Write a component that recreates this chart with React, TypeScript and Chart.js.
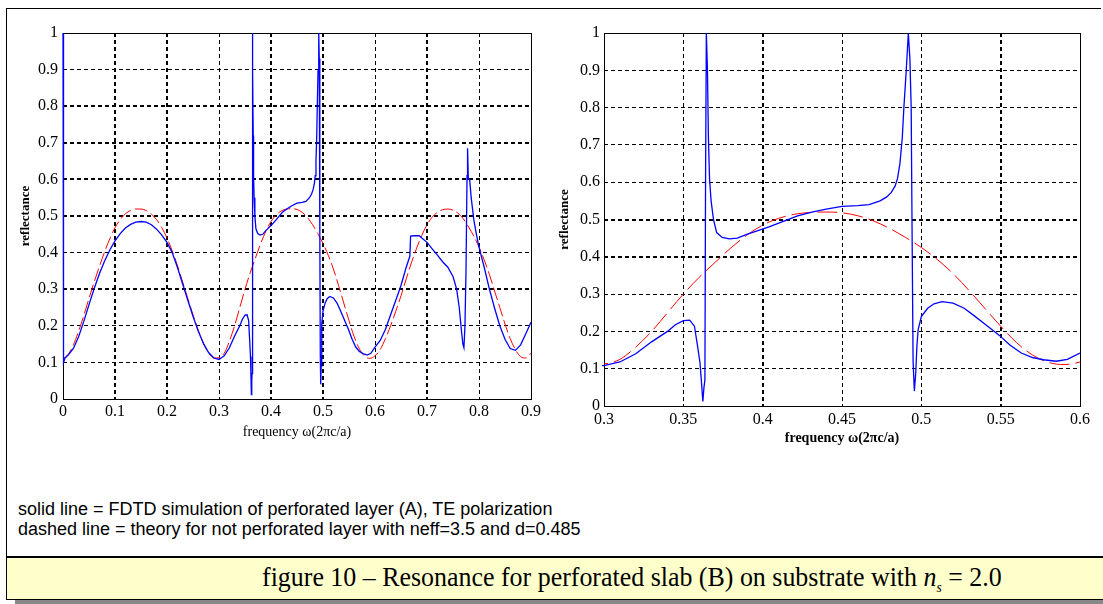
import React, { useEffect, useRef } from "react";
import { Chart, registerables } from "chart.js";

Chart.register(...registerables);

// ---- data ----
const redFreq = [
  0, 0.01, 0.02, 0.03, 0.04, 0.05, 0.06, 0.07, 0.08, 0.09,
  0.1, 0.11, 0.12, 0.13, 0.14, 0.15, 0.16, 0.17, 0.18, 0.19,
  0.2, 0.21, 0.22, 0.23, 0.24, 0.25, 0.26, 0.27, 0.28, 0.29,
  0.3, 0.31, 0.32, 0.33, 0.34, 0.35, 0.36, 0.37, 0.38, 0.39,
  0.4, 0.41, 0.42, 0.43, 0.44, 0.45, 0.46, 0.47, 0.48, 0.49,
  0.5, 0.51, 0.52, 0.53, 0.54, 0.55, 0.56, 0.57, 0.58, 0.59,
  0.6, 0.61, 0.62, 0.63, 0.64, 0.65, 0.66, 0.67, 0.68, 0.69,
  0.7, 0.71, 0.72, 0.73, 0.74, 0.75, 0.76, 0.77, 0.78, 0.79,
  0.8, 0.81, 0.82, 0.83, 0.84, 0.85, 0.86, 0.87, 0.88, 0.89,
  0.9,
];
const redRefl = [
  0.11, 0.122, 0.148, 0.185, 0.228, 0.275, 0.32, 0.362, 0.402, 0.438,
  0.468, 0.49, 0.506, 0.515, 0.519, 0.519, 0.515, 0.505, 0.49, 0.468,
  0.44, 0.405, 0.365, 0.32, 0.275, 0.23, 0.188, 0.152, 0.126, 0.112,
  0.113, 0.125, 0.158, 0.2, 0.25, 0.3, 0.345, 0.385, 0.424, 0.458,
  0.485, 0.503, 0.514, 0.519, 0.52, 0.518, 0.51, 0.496, 0.476, 0.452,
  0.425, 0.393, 0.355, 0.31, 0.262, 0.214, 0.17, 0.137, 0.117, 0.111,
  0.118, 0.135, 0.165, 0.2, 0.24, 0.282, 0.328, 0.372, 0.412, 0.447,
  0.476, 0.497, 0.51, 0.517, 0.519, 0.516, 0.507, 0.492, 0.47, 0.445,
  0.415, 0.38, 0.34, 0.295, 0.25, 0.205, 0.165, 0.135, 0.116, 0.112,
  0.125,
];

const blueFreq = [
  0, 0.001, 0.004, 0.01, 0.02, 0.03, 0.04, 0.05, 0.06, 0.07, 0.08, 0.09,
  0.1, 0.11, 0.12, 0.13, 0.14, 0.15, 0.16, 0.17, 0.18, 0.19,
  0.2, 0.21, 0.22, 0.23, 0.24, 0.25, 0.26, 0.27, 0.28, 0.29,
  0.3, 0.31, 0.32, 0.33, 0.34, 0.345, 0.35, 0.354, 0.357, 0.359, 0.3605,
  0.3615, 0.3623, 0.363, 0.3636, 0.364, 0.3645, 0.3652, 0.3658, 0.3665,
  0.3675, 0.369, 0.371, 0.3745, 0.379, 0.384, 0.39, 0.397, 0.404, 0.413,
  0.422, 0.431, 0.44, 0.45, 0.46, 0.467, 0.474, 0.478, 0.481, 0.4835,
  0.485, 0.4865, 0.488, 0.489, 0.4905, 0.4918, 0.4928, 0.4936, 0.4942,
  0.4948, 0.4956, 0.4965, 0.4972, 0.498, 0.5, 0.504, 0.508, 0.513, 0.52,
  0.527, 0.533, 0.54, 0.549, 0.556, 0.563, 0.57, 0.577, 0.585, 0.592,
  0.6, 0.61, 0.62, 0.63, 0.64, 0.65, 0.66, 0.667, 0.6685, 0.675, 0.685,
  0.69, 0.7, 0.71, 0.72, 0.73, 0.74, 0.75, 0.757, 0.762, 0.766, 0.769,
  0.771, 0.773, 0.775, 0.777, 0.778, 0.7795, 0.782, 0.785, 0.79, 0.795,
  0.8, 0.81, 0.82, 0.83, 0.84, 0.85, 0.86, 0.87, 0.88, 0.89, 0.9,
];
const blueRefl = [
  1.0, 0.1, 0.112, 0.12, 0.138, 0.17, 0.212, 0.258, 0.302, 0.342, 0.377, 0.407,
  0.432, 0.452, 0.467, 0.477, 0.483, 0.485, 0.483, 0.476, 0.464, 0.448,
  0.428, 0.4, 0.36, 0.315, 0.27, 0.226, 0.186, 0.152, 0.127, 0.112,
  0.108, 0.118, 0.14, 0.172, 0.2, 0.218, 0.229, 0.23, 0.214, 0.16, 0.116,
  0.06, 0.012, 0.05, 0.07, 0.6, 1.0, 0.9, 0.72, 0.61,
  0.55, 0.5, 0.465, 0.452, 0.448, 0.45, 0.46, 0.47, 0.48, 0.495,
  0.51, 0.52, 0.528, 0.535, 0.537, 0.54, 0.55, 0.56, 0.572, 0.59,
  0.61, 0.65, 0.72, 0.8, 0.9, 1.0, 0.93, 0.8, 0.45,
  0.12, 0.04, 0.09, 0.16, 0.205, 0.24, 0.262, 0.274, 0.28, 0.276,
  0.262, 0.243, 0.22, 0.19, 0.163, 0.142, 0.13, 0.124, 0.12, 0.125,
  0.142, 0.16, 0.19, 0.23, 0.27, 0.31, 0.36, 0.39, 0.445, 0.446, 0.446,
  0.44, 0.428, 0.41, 0.393, 0.375, 0.36, 0.335, 0.3, 0.25, 0.19, 0.15,
  0.14, 0.2, 0.35, 0.61, 0.685, 0.6, 0.6, 0.55, 0.49, 0.45,
  0.415, 0.36, 0.3, 0.248, 0.2, 0.163, 0.138, 0.133, 0.148, 0.178, 0.21,
];

const yTickValues = [0, 0.1, 0.2, 0.3, 0.4, 0.5, 0.6, 0.7, 0.8, 0.9, 1];
const yTickLabels = ["0", "0.1", "0.2", "0.3", "0.4", "0.5", "0.6", "0.7", "0.8", "0.9", "1"];
const leftXTickValues = [0, 0.1, 0.2, 0.3, 0.4, 0.5, 0.6, 0.7, 0.8, 0.9];
const leftXTickLabels = ["0", "0.1", "0.2", "0.3", "0.4", "0.5", "0.6", "0.7", "0.8", "0.9"];
const rightXTickValues = [0.3, 0.35, 0.4, 0.45, 0.5, 0.55, 0.6];
const rightXTickLabels = ["0.3", "0.35", "0.4", "0.45", "0.5", "0.55", "0.6"];

const yAxisTitle = "reflectance";
const xAxisTitle = "frequency \u03c9(2\u03c0c/a)";
const legendLines = [
  "solid line = FDTD simulation of perforated layer (A), TE polarization",
  "dashed line = theory for not perforated layer with neff=3.5 and d=0.485",
];
const captionText = "figure 10 \u2013 Resonance for perforated slab (B) on substrate with ";

// ---- chart helpers ----
const boxPlugin = {
  id: "plotBox",
  beforeDatasetsDraw(chart: any) {
    const { ctx, chartArea } = chart;
    const { left, top, right, bottom } = chartArea;
    ctx.save();
    ctx.setLineDash([]);
    ctx.strokeStyle = "#000";
    ctx.lineWidth = 1;
    ctx.strokeRect(Math.round(left) + 0.5, Math.round(top) + 0.5, Math.round(right - left), Math.round(bottom - top));
    ctx.restore();
  },
};

type PanelCfg = {
  xMin: number;
  xMax: number;
  xTicks: number[];
  xLabels: string[];
  thickX: number[];
  thickY: number[];
  pad: { left: number; top: number; right: number; bottom: number };
  yWidth: number;
  xHeight: number;
  yTitlePad: number;
  xTitlePad: number;
  xTitleBold: boolean;
  xTickPad: number;
  yTickPad: number;
  redDash: number[];
};

function buildChart(canvas: HTMLCanvasElement, c: PanelCfg) {
  const gridColor = (min: number, max: number) => (ctx: any) => {
    const v = ctx.tick ? ctx.tick.value : null;
    if (v === null) return "#000";
    if (Math.abs(v - min) < 1e-9 || Math.abs(v - max) < 1e-9) return "rgba(0,0,0,0)";
    return "#000";
  };
  const gridWidth = (thick: number[]) => (ctx: any) => {
    const v = ctx.tick ? ctx.tick.value : null;
    if (v === null) return 1;
    return thick.some((t) => Math.abs(t - v) < 1e-9) ? 2 : 1;
  };
  const tickFont = { family: "'Liberation Serif', serif", size: 16 };

  return new Chart(canvas, {
    type: "line",
    data: {
      datasets: [
        {
          data: blueFreq.map((f, i) => ({ x: f, y: blueRefl[i] })),
          borderColor: "#0000ff",
          borderWidth: 1.3,
          pointRadius: 0,
          tension: 0,
          clip: { left: 2, top: 2, right: 0, bottom: 2 },
        },
        {
          data: redFreq.map((f, i) => ({ x: f, y: redRefl[i] })),
          borderColor: "#ff0000",
          borderWidth: 1,
          borderDash: c.redDash,
          pointRadius: 0,
          cubicInterpolationMode: "monotone",
          clip: { left: 0, top: 0, right: 0, bottom: 0 },
        },
      ],
    } as any,
    options: {
      responsive: false,
      maintainAspectRatio: false,
      animation: false,
      events: [],
      layout: { padding: c.pad },
      plugins: { legend: { display: false }, tooltip: { enabled: false } },
      scales: {
        x: {
          type: "linear",
          min: c.xMin,
          max: c.xMax,
          afterBuildTicks: (axis: any) => {
            axis.ticks = c.xTicks.map((v) => ({ value: v }));
          },
          afterFit: (s: any) => {
            s.height = c.xHeight;
            s.paddingLeft = 0;
            s.paddingRight = 0;
          },
          ticks: {
            autoSkip: false,
            maxRotation: 0,
            minRotation: 0,
            color: "#000",
            padding: c.xTickPad,
            font: tickFont,
            callback: (_v: any, i: number) => c.xLabels[i],
          },
          grid: {
            drawTicks: false,
            color: gridColor(c.xMin, c.xMax),
            lineWidth: gridWidth(c.thickX),
          },
          border: { display: false, dash: [4, 3] },
          title: {
            display: true,
            text: xAxisTitle,
            color: "#000",
            font: { family: "'Liberation Serif', serif", size: 14, weight: c.xTitleBold ? "bold" : "normal" },
            padding: { top: 0, bottom: c.xTitlePad },
          },
        },
        y: {
          type: "linear",
          min: 0,
          max: 1,
          afterBuildTicks: (axis: any) => {
            axis.ticks = yTickValues.map((v) => ({ value: v }));
          },
          afterFit: (s: any) => {
            s.width = c.yWidth;
            s.paddingTop = 0;
            s.paddingBottom = 0;
          },
          ticks: {
            autoSkip: false,
            color: "#000",
            padding: c.yTickPad,
            font: tickFont,
            callback: (_v: any, i: number) => yTickLabels[i],
          },
          grid: {
            drawTicks: false,
            color: gridColor(0, 1),
            lineWidth: gridWidth(c.thickY),
          },
          border: { display: false, dash: [4, 3] },
          title: {
            display: true,
            text: yAxisTitle,
            color: "#000",
            font: { family: "'Liberation Serif', serif", size: 13, weight: "bold" },
            padding: { top: c.yTitlePad, bottom: 0 },
          },
        },
      },
    } as any,
    plugins: [boxPlugin],
  });
}

function Panel(props: { cfg: PanelCfg; left: number; width: number; height: number }) {
  const ref = useRef<HTMLCanvasElement | null>(null);
  useEffect(() => {
    if (!ref.current) return;
    const chart = buildChart(ref.current, props.cfg);
    return () => chart.destroy();
  }, []);
  return (
    <canvas
      ref={ref}
      width={props.width}
      height={props.height}
      style={{ position: "absolute", left: props.left, top: 0, width: props.width, height: props.height }}
    />
  );
}

const leftCfg: PanelCfg = {
  xMin: 0,
  xMax: 0.9,
  xTicks: leftXTickValues,
  xLabels: leftXTickLabels,
  thickX: [0.1, 0.2, 0.4, 0.5, 0.7],
  thickY: [0.3, 0.5, 0.6, 0.7, 0.8],
  pad: { left: 0, top: 33, right: 14, bottom: 0 },
  yWidth: 63,
  xHeight: 56,
  yTitlePad: 18,
  xTitlePad: 14,
  xTitleBold: false,
  xTickPad: 3,
  yTickPad: 5,
  redDash: [13, 4],
};

const rightCfg: PanelCfg = {
  xMin: 0.3,
  xMax: 0.6,
  xTicks: rightXTickValues,
  xLabels: rightXTickLabels,
  thickX: [0.4, 0.55],
  thickY: [0.4, 0.5],
  pad: { left: 0, top: 33, right: 23, bottom: 0 },
  yWidth: 59,
  xHeight: 49,
  yTitlePad: 12,
  xTitlePad: 8,
  xTitleBold: true,
  xTickPad: 4,
  yTickPad: 4,
  redDash: [20, 6],
};

export default function App() {
  return (
    <div
      style={{
        position: "absolute",
        left: 0,
        top: 0,
        width: 1103,
        height: 604,
        overflow: "hidden",
        background: "#fff",
      }}
    >
      {/* outer frame */}
      <div style={{ position: "absolute", left: 6, top: 8, width: 1095, height: 1, background: "#000" }} />
      <div style={{ position: "absolute", left: 6, top: 8, width: 1, height: 592, background: "#000" }} />

      <Panel cfg={leftCfg} left={0} width={545} height={455} />
      <Panel cfg={rightCfg} left={545} width={558} height={455} />

      {/* legend text */}
      <div
        style={{
          position: "absolute",
          left: 18,
          top: 499,
          fontFamily: "'Liberation Sans', Arial, sans-serif",
          fontSize: 18,
          lineHeight: "20px",
          color: "#000",
          whiteSpace: "nowrap",
          transform: "scaleX(1.0)",
          transformOrigin: "left top",
        }}
      >
        <div>{legendLines[0]}</div>
        <div>{legendLines[1]}</div>
      </div>

      {/* caption banner */}
      <div style={{ position: "absolute", left: 6, top: 556, width: 1097, height: 2, background: "#000" }} />
      <div style={{ position: "absolute", left: 7, top: 558, width: 1096, height: 41, background: "#ffffcc" }} />
      <div style={{ position: "absolute", left: 6, top: 599, width: 1097, height: 1, background: "#000" }} />
      <div style={{ position: "absolute", left: 15, top: 600, width: 1088, height: 4, background: "#888" }} />
      <div
        style={{
          position: "absolute",
          left: 262,
          top: 561,
          fontFamily: "'Liberation Serif', 'Times New Roman', serif",
          fontSize: 27,
          lineHeight: "32px",
          color: "#000",
          whiteSpace: "nowrap",
          transform: "scaleX(0.96)",
          transformOrigin: "left top",
        }}
      >
        {captionText}
        <i>n</i>
        <sub style={{ fontSize: 14, fontStyle: "italic" }}>s</sub>
        {" = 2.0"}
      </div>
    </div>
  );
}
